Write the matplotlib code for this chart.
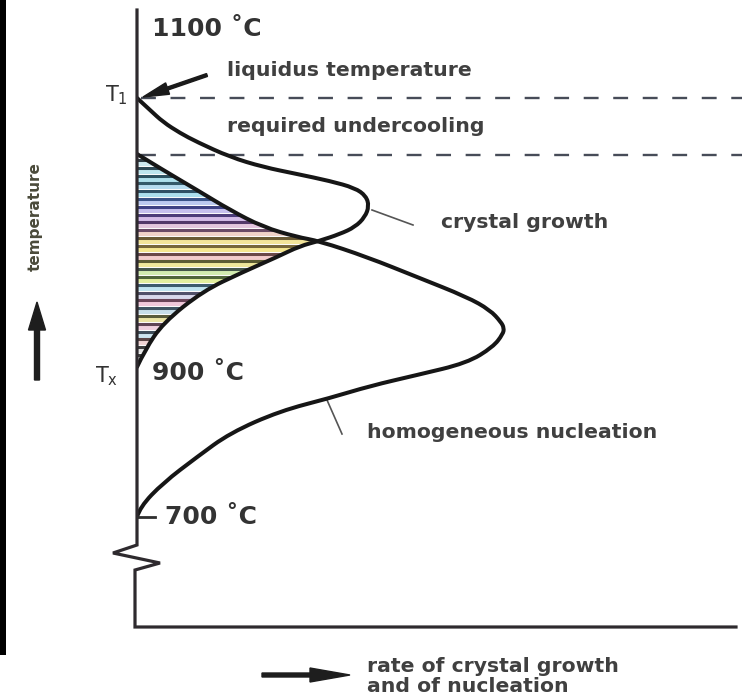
import numpy as np
import matplotlib
matplotlib.use("Agg")
import matplotlib.pyplot as plt
from matplotlib.patches import Polygon, FancyArrow, Rectangle, PathPatch
from matplotlib.path import Path

plt.rcParams["font.family"] = ["DejaVu Sans"]

# Schematic units: rate (x) and temperature level (y), origin at the axes corner
growth_rate = [0, 13, 26, 43, 60, 93, 126, 160, 193, 218, 229, 232, 228, 218, 203,
               182, 163, 140, 106, 66, 26, 8, 0]
growth_level = [529, 517, 505, 494, 485, 470, 460, 453, 446, 439, 431, 421, 410, 400, 393,
                386, 381, 370, 355, 336, 304, 277, 260]

nucl_rate = [0, 26, 60, 93, 126, 160, 182, 230, 280, 330, 353, 364, 367, 366, 356, 330,
             280, 233, 193, 143, 93, 60, 26, 3, 0]
nucl_level = [473, 457, 437, 417, 400, 390, 386, 370, 350, 330, 317, 305, 299, 293, 280, 264,
              252, 241, 229, 216, 194, 170, 144, 120, 110]

T_LIQUIDUS = 529      # T1
T_UNDERCOOL = 473     # start of nucleation
T_CROSS = 386         # growth and nucleation curves intersect
T_X = 260             # Tx (900 °C)
T_700 = 110
T_1100 = 617

tick_labels = {"1100": "1100 \u02daC", "900": "900 \u02daC", "700": "700 \u02daC"}
curve_labels = ["liquidus temperature", "required undercooling",
                "crystal growth", "homogeneous nucleation"]
x_label_lines = ["rate of crystal growth", "and of nucleation"]

stripe_line_colors = ["#2f3c44", "#2f4a56", "#2c5260", "#335a6a", "#2f5266", "#3a5488",
                      "#3e4284", "#4c3c7a", "#53386a", "#6a4a66", "#6a5a34", "#76663a",
                      "#6a4848", "#5a5a32", "#44564a", "#50663a", "#3c5a6c", "#50506a",
                      "#6a4458", "#405462", "#5a5c3c", "#604456", "#3f4e5a", "#5a4444",
                      "#3e3e3e", "#3e3e3e", "#3e3e3e", "#3e3e3e"]
stripe_band_colors = ["#cfeaf0", "#bde6ee", "#aee0ec", "#b6dcf0", "#ace0ee", "#bccaf0",
                      "#c6c0ee", "#d4bce8", "#e4c6de", "#f0d2c8", "#f2e49a", "#f4e690",
                      "#f2cccc", "#eee69a", "#d2ecb0", "#e2ee9e", "#c0e4f0", "#d8d8ec",
                      "#f0c8da", "#c8deea", "#ece4a6", "#f0d0e0", "#cce4ee", "#f0d4d4",
                      "#e4e4e4", "#e4e4e4", "#e4e4e4", "#e4e4e4"]


def smooth_path(xs, ys):
    """Quadratic Bezier path through the midpoints, using the points as controls."""
    p = np.column_stack([xs, ys]).astype(float)
    verts = [p[0]]
    codes = [Path.MOVETO]
    for i in range(1, len(p) - 1):
        mid = (p[i] + p[i + 1]) / 2 if i < len(p) - 2 else p[i + 1]
        verts += [p[i], mid]
        codes += [Path.CURVE3, Path.CURVE3]
    return Path(verts, codes)


fig = plt.figure(figsize=(7.42, 7.0), dpi=100)
fig.patch.set_facecolor("white")
fig.add_artist(Rectangle((0, 45 / 700), 6 / 742, 655 / 700, transform=fig.transFigure,
                         facecolor="black", edgecolor="none"))

ax = fig.add_axes([137 / 742, 73 / 700, 605 / 742, 617 / 700])
ax.set_xlim(0, 605)
ax.set_ylim(0, 617)
ax.axis("off")

growth_path = smooth_path(growth_rate, growth_level)
nucl_path = smooth_path(nucl_rate, nucl_level)
gv = growth_path.to_polygons(closed_only=False)[0]
nv = nucl_path.to_polygons(closed_only=False)[0]

# hatched region: below the nucleation onset and inside the growth curve
n_end = np.argmax(nv[:, 1] < T_CROSS)
g_tip = np.argmax(gv[:, 0])
g_start = g_tip + np.argmax(gv[g_tip:, 1] <= T_CROSS)
region = np.vstack([nv[:n_end], gv[g_start:], [[0, T_X]]])
clip_poly = Polygon(region, closed=True, facecolor="none", edgecolor="none")
ax.add_patch(clip_poly)

stripe_levels = np.arange(T_UNDERCOOL - 6, T_X, -7.8)
for k, lev in enumerate(stripe_levels):
    band = ax.axhspan(lev - 6.0, lev - 1.5, facecolor=stripe_band_colors[k % 28],
                      edgecolor="none", zorder=1)
    band.set_clip_path(clip_poly)
    ln = ax.hlines(lev, 0, 250, colors=stripe_line_colors[k % 28], lw=2.2, zorder=2)
    ln.set_clip_path(clip_poly)

# dashed temperature levels
for lev in (T_LIQUIDUS, T_UNDERCOOL - 1):
    ax.plot([4, 605], [lev, lev], color="#474c58", lw=1.7, dashes=(6.3, 6.2),
            solid_capstyle="butt", zorder=3, clip_on=False)

# curves
for path in (growth_path, nucl_path):
    ax.add_patch(PathPatch(path, facecolor="none", edgecolor="#161616", lw=2.9,
                           joinstyle="round", capstyle="round", zorder=5))

# axes with a break in the temperature axis
ax.plot([0, 0, -24, 23, -2, -2, 599], [T_1100, 82, 74, 64, 57, 0, 0], color="#2e2a2e",
        lw=2.3, solid_joinstyle="miter", zorder=6, clip_on=False)
ax.plot([0, 18], [T_700, T_700], color="#2e2e2e", lw=2.0, zorder=6)

tick_kw = dict(fontsize=18, fontweight="bold", color="#333333", va="center", ha="left")
ax.text(15, 598, tick_labels["1100"], **tick_kw)
ax.text(15, 254, tick_labels["900"], **tick_kw)
ax.text(28, T_700, tick_labels["700"], **tick_kw)

ax.text(-9, 532, r"T$_1$", fontsize=15, color="#333333", ha="right", va="center")
ax.text(-19, 251, r"T$_\mathrm{x}$", fontsize=15, color="#333333", ha="right", va="center")

lab_kw = dict(fontsize=14.7, fontweight="bold", color="#404040", va="center", ha="left")
ax.text(90, 557, curve_labels[0], **lab_kw)
ax.text(90, 500, curve_labels[1], **lab_kw)
ax.text(304, 405, curve_labels[2], **lab_kw)
ax.text(230, 194, curve_labels[3], **lab_kw)

# leader lines and arrows
ax.plot([235, 276], [417, 402], color="#555555", lw=1.2, zorder=4)
ax.plot([190, 205], [227, 193], color="#555555", lw=1.2, zorder=4)
ax.add_patch(FancyArrow(70, 552, -64, -22, width=3, head_width=12, head_length=26,
                        length_includes_head=True, color="#1a1a1a", zorder=7))

ax.add_patch(FancyArrow(-100, 247, 0, 78, width=5, head_width=17, head_length=28,
                        length_includes_head=True, color="#1e1e1e", clip_on=False))
ax.text(-102, 410, "temperature", rotation=90, fontsize=11, fontweight="bold",
        color="#4a4a3a", ha="center", va="center", clip_on=False)

ax.add_patch(FancyArrow(125, -48, 88, 0, width=4, head_width=14, head_length=40,
                        length_includes_head=True, color="#1e1e1e", clip_on=False))
ax.text(230, -40, x_label_lines[0], clip_on=False, **lab_kw)
ax.text(230, -59, x_label_lines[1], clip_on=False, **lab_kw)

fig.savefig("out.png", dpi=100)
